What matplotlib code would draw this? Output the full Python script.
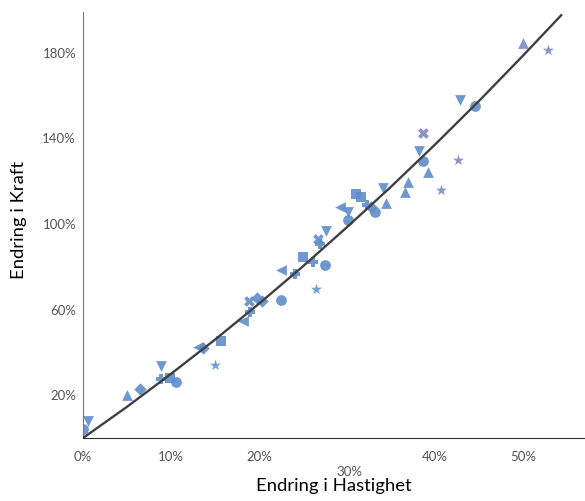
import numpy as np
import matplotlib
matplotlib.use('Agg')
import matplotlib.pyplot as plt
from matplotlib.transforms import offset_copy

plt.rcParams['font.family'] = ['Lato', 'DejaVu Sans']

# scatter points (change in speed %, change in force %), grouped by marker
circ_x = [0.0, 10.6, 22.5, 27.5, 30.1, 33.2, 38.6, 44.5]
circ_y = [4.0, 26.0, 64.4, 80.7, 102.0, 105.4, 129.2, 154.9]
tri_up_x = [5.0, 34.4, 36.6, 36.9, 39.2, 50.0]
tri_up_y = [20.0, 110.0, 115.0, 119.4, 124.5, 184.7]
tri_dn_x = [0.6, 8.9, 27.6, 30.1, 34.1, 38.1, 42.8]
tri_dn_y = [7.9, 33.6, 96.5, 105.4, 117.0, 133.9, 158.0]
tri_lf_x = [13.1, 18.2, 22.5, 29.2]
tri_lf_y = [42.4, 54.6, 78.4, 107.7]
sq_x = [9.9, 15.7, 25.0, 31.0, 31.6]
sq_y = [28.0, 45.2, 84.4, 113.8, 112.4]
dia_x = [6.5, 13.6, 19.7, 20.3, 32.7]
dia_y = [22.9, 42.0, 65.3, 64.0, 107.7]
xs_x = [18.9, 26.7, 38.6]
xs_y = [63.9, 92.8, 142.7]
plus_x = [8.8, 19.0, 24.1, 26.1, 26.9, 32.2]
plus_y = [27.5, 58.8, 76.5, 82.0, 90.5, 109.0]
star_x = [15.0, 26.4, 40.7, 42.6, 52.8]
star_y = [34.0, 69.5, 116.0, 130.0, 181.4]

# trend curve
curve_x = [0, 5, 10, 15, 20, 25, 30, 35, 40, 45, 50, 54.3]
curve_y = [0, 14.6, 30.0, 46.0, 62.8, 80.3, 98.6, 117.5, 137.2, 157.6, 178.8, 197.5]

xticks = [0, 10, 20, 30, 40, 50]
xlabels = ['0%', '10%', '20%', '30%', '40%', '50%']
yticks = [20, 60, 100, 140, 180]
ylabels = ['20%', '60%', '100%', '140%', '180%']

fig = plt.figure(figsize=(5.85, 5.01), dpi=100)
ax = fig.add_axes([0.1419, 0.1257, 0.8581, 0.8503])

col = '#5f8dca'
col2 = '#7f88c4'
ax.scatter(circ_x, circ_y, marker='o', s=60, color=col, alpha=0.9, lw=0)
ax.scatter(tri_up_x[:-1], tri_up_y[:-1], marker='^', s=60, color=col, alpha=0.9, lw=0)
ax.scatter(tri_up_x[-1:], tri_up_y[-1:], marker='^', s=60, color=col2, alpha=0.9, lw=0)
ax.scatter(tri_dn_x, tri_dn_y, marker='v', s=60, color=col, alpha=0.9, lw=0)
ax.scatter(tri_lf_x, tri_lf_y, marker='<', s=60, color=col, alpha=0.9, lw=0)
ax.scatter(sq_x, sq_y, marker='s', s=55, color=col, alpha=0.9, lw=0)
ax.scatter(dia_x, dia_y, marker='D', s=40, color=col, alpha=0.9, lw=0)
ax.scatter(xs_x[:2], xs_y[:2], marker='X', s=60, color=col, alpha=0.9, lw=0)
ax.scatter(xs_x[2:], xs_y[2:], marker='X', s=60, color=col2, alpha=0.9, lw=0)
ax.scatter(plus_x, plus_y, marker='P', s=55, color=col, alpha=0.9, lw=0)
ax.scatter(star_x[:2], star_y[:2], marker='*', s=70, color=col, alpha=0.85, lw=0)
ax.scatter(star_x[2:], star_y[2:], marker='*', s=70, color=col2, alpha=0.9, lw=0)

ax.plot(curve_x, curve_y, color='#3f3f3f', lw=1.7, zorder=5)

ax.set_xlim(0, 57)
ax.set_ylim(0, 199)
ax.set_xticks(xticks)
ax.set_xticklabels(xlabels)
ax.set_yticks(yticks)
ax.set_yticklabels(ylabels)
ax.tick_params(length=0, labelsize=9.5, labelcolor='#555555')
ax.tick_params(axis='x', pad=9)
ax.tick_params(axis='y', pad=5)

# the 30% label sits lower in the original
lab = ax.get_xticklabels()[3]
lab.set_transform(offset_copy(lab.get_transform(), fig=fig, x=2, y=-15, units='dots'))

for s in ['top', 'right']:
    ax.spines[s].set_visible(False)
ax.spines['left'].set_color('#777777')
ax.spines['bottom'].set_color('#333333')

ax.set_xlabel('Endring i Hastighet', fontsize=13.3)
ax.set_ylabel('Endring i Kraft', fontsize=13.3)
ax.xaxis.set_label_coords(0.5, -0.095)
ax.yaxis.set_label_coords(-0.112, 0.512)

fig.savefig('out.png', dpi=100)
